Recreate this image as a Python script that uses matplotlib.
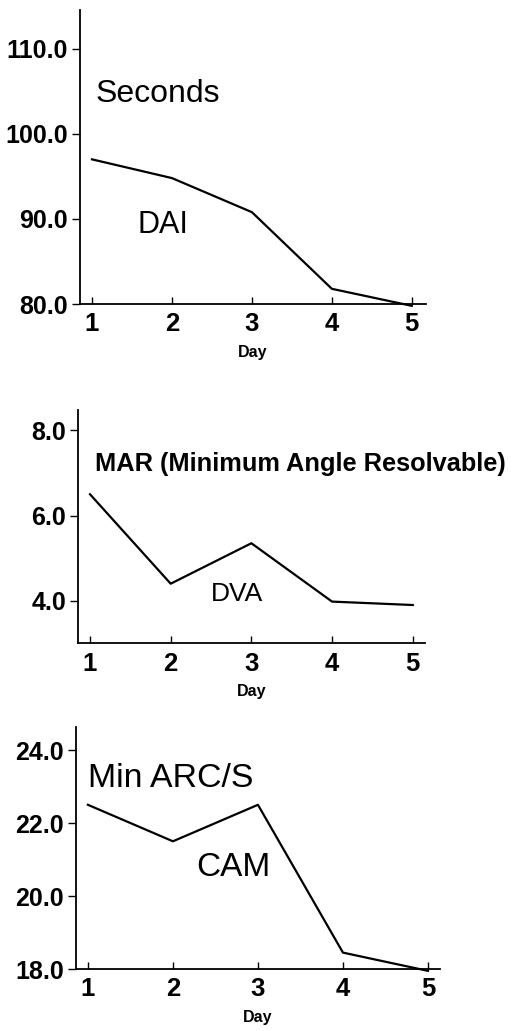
import matplotlib
matplotlib.use('Agg')
import matplotlib.pyplot as plt

plt.rcParams['font.family'] = ['Liberation Sans', 'DejaVu Sans']

days = [1, 2, 3, 4, 5]
dai_seconds = [97.0, 94.8, 90.8, 81.8, 79.8]
dva_mar = [6.5, 4.4, 5.35, 3.98, 3.9]
cam_arcs = [22.5, 21.5, 22.5, 18.45, 17.95]

dai_ticks = [80.0, 90.0, 100.0, 110.0]
dva_ticks = [4.0, 6.0, 8.0]
cam_ticks = [18.0, 20.0, 22.0, 24.0]

fig = plt.figure(figsize=(5.13, 10.31), dpi=100)

# panel rects in figure fraction
ax1 = fig.add_axes([0.156, 0.705, 0.674, 0.285])
ax2 = fig.add_axes([0.152, 0.376, 0.676, 0.226])
ax3 = fig.add_axes([0.148, 0.0601, 0.7096, 0.2347])

def style(ax, yvals, yticks, ylim, xlim):
    ax.plot(days, yvals, color='black', lw=1.6, clip_on=False)
    ax.set_xlim(*xlim)
    ax.set_ylim(*ylim)
    ax.set_xticks(days)
    ax.set_yticks(yticks)
    ax.set_yticklabels(['%.1f' % t for t in yticks])
    for s in ['top', 'right']:
        ax.spines[s].set_visible(False)
    for s in ['left', 'bottom']:
        ax.spines[s].set_linewidth(1.3)
    ax.tick_params(axis='x', direction='in', length=5, width=1.0, pad=6,
                   labelsize=18.5)
    ax.tick_params(axis='y', direction='out', length=6, width=1.0, pad=2.5,
                   labelsize=18)
    for lab in ax.get_xticklabels() + ax.get_yticklabels():
        lab.set_fontweight('bold')
    ax.set_xlabel('Day', fontsize=11.5, fontweight='bold', labelpad=6)

style(ax1, dai_seconds, dai_ticks, (80.0, 114.5), (0.85, 5.175))
ax1.text(1.04, 104.7, 'Seconds', fontsize=23, va='center', ha='left')
ax1.text(1.57, 89.3, 'DAI', fontsize=22, va='center', ha='left')

style(ax2, dva_mar, dva_ticks, (3.0, 8.47), (0.851, 5.149))
ax2.text(1.06, 7.22, 'MAR (Minimum Angle Resolvable)', fontsize=18.3,
         fontweight='bold', va='center', ha='left')
ax2.text(2.5, 4.17, 'DVA', fontsize=19, va='center', ha='left')

style(ax3, cam_arcs, cam_ticks, (18.0, 24.63), (0.859, 5.141))
ax3.text(1.0, 23.23, 'Min ARC/S', fontsize=24.4, va='center', ha='left')
ax3.text(2.28, 20.77, 'CAM', fontsize=24, va='center', ha='left')

fig.savefig('out.png', dpi=100)
